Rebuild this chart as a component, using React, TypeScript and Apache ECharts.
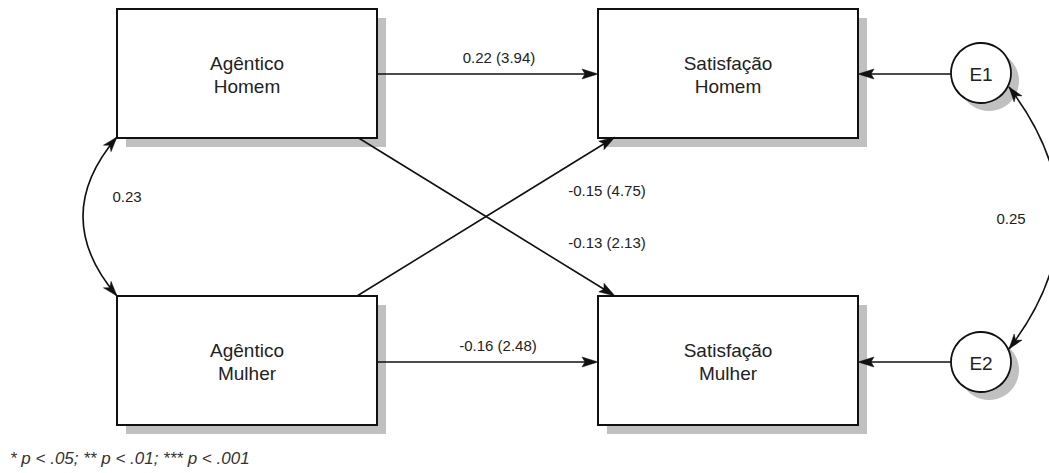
import React, { useEffect, useRef } from "react";
import * as echarts from "echarts";

// ---- data ----
const variableNames = ["Agêntico\nHomem", "Satisfação\nHomem", "Agêntico\nMulher", "Satisfação\nMulher"];
const errorNames = ["E1", "E2"];
const pathCoefficients = [0.22, -0.15, -0.13, -0.16];
const pathStatistics = [3.94, 4.75, 2.13, 2.48];
const covariances = [0.23, 0.25];
const footnote = "* p < .05; ** p < .01; *** p < .001";

const fmt = (v: number) => v.toFixed(2);

export default function App() {
  const ref = useRef<HTMLDivElement>(null);

  useEffect(() => {
    if (!ref.current) return;
    const chart = echarts.init(ref.current, null, { renderer: "svg" });
    const FONT = "'Liberation Sans', Arial, Helvetica, sans-serif";
    const INK = "#111";
    const TEXT = "#222";
    const SHADOW = "#c0c0c0";
    const LW = 1.6;
    const els: any[] = [];

    const arrowHead = (tx: number, ty: number, dx: number, dy: number, L = 16, W = 5, notch = 3) => {
      const len = Math.hypot(dx, dy);
      const ux = dx / len, uy = dy / len;
      const nx = -uy, ny = ux;
      return {
        type: "polygon",
        z: 50,
        shape: {
          points: [
            [tx, ty],
            [tx - ux * L + nx * W, ty - uy * L + ny * W],
            [tx - ux * (L - notch), ty - uy * (L - notch)],
            [tx - ux * L - nx * W, ty - uy * L - ny * W],
          ],
        },
        style: { fill: INK, stroke: INK, lineWidth: 0.5 },
      };
    };

    const straightArrow = (x1: number, y1: number, x2: number, y2: number) => {
      const dx = x2 - x1, dy = y2 - y1;
      const len = Math.hypot(dx, dy);
      const ex = x2 - (dx / len) * 8, ey = y2 - (dy / len) * 8;
      els.push({ type: "line", z: 20, shape: { x1, y1, x2: ex, y2: ey }, style: { stroke: INK, lineWidth: LW } });
      els.push(arrowHead(x2, y2, dx, dy));
    };

    const curvedDouble = (p0: number[], c: number[], p2: number[]) => {
      els.push({
        type: "bezierCurve",
        z: 20,
        shape: { x1: p0[0], y1: p0[1], x2: p2[0], y2: p2[1], cpx1: c[0], cpy1: c[1] },
        style: { stroke: INK, lineWidth: LW, fill: "none" },
      });
      els.push(arrowHead(p0[0], p0[1], p0[0] - c[0], p0[1] - c[1], 15, 5, 4));
      els.push(arrowHead(p2[0], p2[1], p2[0] - c[0], p2[1] - c[1], 15, 5, 4));
    };

    const label = (text: string, x: number, y: number, size = 15) => {
      els.push({
        type: "text",
        z: 40,
        x,
        y,
        style: { text, fontSize: size, fontFamily: FONT, fill: TEXT, align: "center", verticalAlign: "middle" },
      });
    };

    // boxes
    const BW = 260, BH = 129;
    const boxes = [
      { x: 117, y: 9 },
      { x: 598, y: 9 },
      { x: 117, y: 296 },
      { x: 598, y: 296 },
    ];
    boxes.forEach((b, i) => {
      els.push({ type: "rect", z: 5, shape: { x: b.x + 9, y: b.y + 9, width: BW, height: BH }, style: { fill: SHADOW } });
      els.push({ type: "rect", z: 30, shape: { x: b.x, y: b.y, width: BW, height: BH }, style: { fill: "#fff", stroke: INK, lineWidth: 2 } });
      els.push({
        type: "text",
        z: 40,
        x: b.x + BW / 2,
        y: b.y + BH / 2 + 1.5,
        style: {
          text: variableNames[i],
          fontSize: 19,
          fontFamily: FONT,
          fill: TEXT,
          align: "center",
          verticalAlign: "middle",
          lineHeight: 23,
        },
      });
    });

    // error circles
    const R = 30;
    const circles = [
      { x: 981, y: 73 },
      { x: 981, y: 362 },
    ];
    circles.forEach((c, i) => {
      els.push({ type: "circle", z: 5, shape: { cx: c.x + 8, cy: c.y + 8, r: R }, style: { fill: SHADOW } });
      els.push({ type: "circle", z: 30, shape: { cx: c.x, cy: c.y, r: R }, style: { fill: "#fff", stroke: INK, lineWidth: 1.8 } });
      label(errorNames[i], c.x, c.y + 1, 19);
    });

    // regression paths
    straightArrow(377, 74, 598, 74);
    straightArrow(357, 296, 615, 137);
    straightArrow(357, 137, 615, 296);
    straightArrow(377, 362, 598, 362);
    const pathLabelPos = [
      [499, 57],
      [607, 190],
      [607, 242],
      [498, 345],
    ];
    pathCoefficients.forEach((c, i) => {
      label(`${fmt(c)} (${fmt(pathStatistics[i])})`, pathLabelPos[i][0], pathLabelPos[i][1]);
    });

    // error -> outcome
    straightArrow(951, 74, 858, 74);
    straightArrow(951, 362, 858, 362);

    // covariances
    curvedDouble([117, 137], [49, 216.5], [117, 296]);
    curvedDouble([1009, 87], [1109, 218], [1009, 349]);
    label(fmt(covariances[0]), 127, 196);
    label(fmt(covariances[1]), 1011, 218);

    // footnote
    els.push({
      type: "text",
      z: 40,
      x: 10,
      y: 458,
      style: {
        text: footnote,
        fontSize: 17,
        fontStyle: "italic",
        fontFamily: FONT,
        fill: "#333",
        align: "left",
        verticalAlign: "middle",
      },
    });

    chart.setOption({
      animation: false,
      backgroundColor: "#fff",
      graphic: { elements: els },
    });

    return () => chart.dispose();
  }, []);

  return (
    <div
      ref={ref}
      style={{ position: "fixed", left: 0, top: 0, width: 1049, height: 473, background: "#fff" }}
    />
  );
}
